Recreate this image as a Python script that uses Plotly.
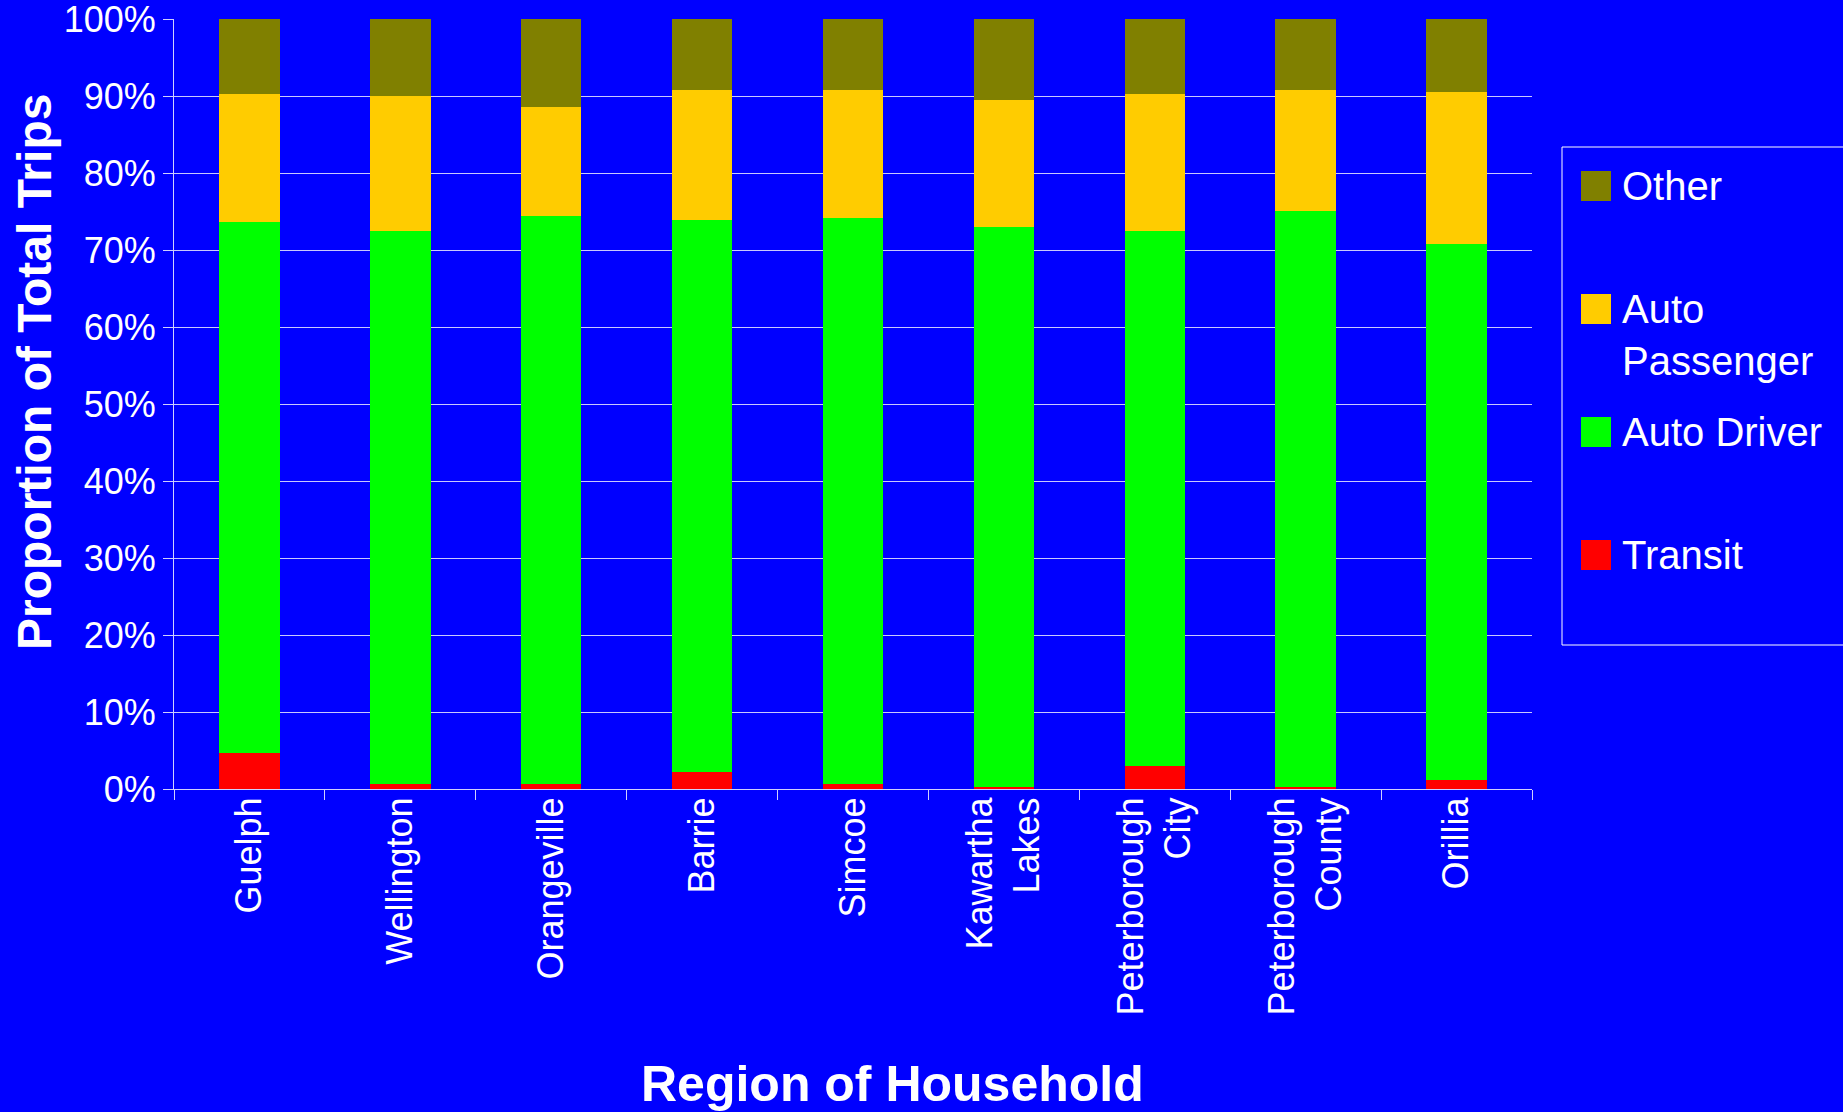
import plotly.graph_objects as go

# ---- data ----
regions = ["Guelph", "Wellington", "Orangeville", "Barrie", "Simcoe",
           "Kawartha<br>Lakes", "Peterborough<br>City", "Peterborough<br>County", "Orillia"]
transit = [4.7, 0.7, 0.7, 2.2, 0.7, 0.3, 3.0, 0.3, 1.2]
auto_driver = [69.0, 71.8, 73.7, 71.7, 73.5, 72.7, 69.5, 74.8, 69.6]
auto_passenger = [16.6, 17.5, 14.2, 16.9, 16.6, 16.5, 17.8, 15.7, 19.7]
other = [9.7, 10.0, 11.4, 9.2, 9.2, 10.5, 9.7, 9.2, 9.5]
y_ticks = [0, 10, 20, 30, 40, 50, 60, 70, 80, 90, 100]
y_tick_labels = [f"{v}%" for v in y_ticks]

series_names = ["Transit", "Auto Driver", "Auto Passenger", "Other"]
legend_labels = {"Transit": "Transit", "Auto Driver": "Auto Driver",
                 "Auto Passenger": "Auto<br>Passenger", "Other": "Other"}
series_values = [transit, auto_driver, auto_passenger, other]
colors = ["#FF0000", "#00FF00", "#FFCC00", "#808000"]

# ---- geometry ----
W, H = 1843, 1112
L, R, T, B = 174, 311, 19, 323
PW, PH = W - L - R, H - T - B
FONT = "Liberation Sans, Arial, sans-serif"
BG = "#0000FF"


def px_x(x):
    return (x - L) / PW


def px_y(y):
    return (H - B - y) / PH


fig = go.Figure()
for name, vals, col in zip(series_names, series_values, colors):
    fig.add_trace(go.Bar(x=regions, y=vals, name=name, marker_color=col,
                         marker_line_width=0, showlegend=False))

fig.update_layout(
    width=W, height=H,
    margin=dict(l=L, r=R, t=T, b=B, autoexpand=False),
    paper_bgcolor=BG, plot_bgcolor=BG,
    barmode="stack", bargap=0.60,
    font=dict(family=FONT, color="white"),
    showlegend=False,
)
fig.update_xaxes(
    type="category", tickson="boundaries", ticks="outside", ticklen=10,
    tickcolor="#d0d0ff", tickwidth=1, showline=True, linecolor="#d0d0ff",
    linewidth=1, showgrid=False, tickangle=-90, ticklabelstandoff=-7,
    tickfont=dict(size=36, color="white", family=FONT),
)
fig.update_yaxes(
    range=[0, 100], tickvals=y_ticks, ticktext=y_tick_labels, ticks="outside",
    ticklen=10, tickcolor="#d0d0ff", showline=True, linecolor="#d0d0ff",
    linewidth=1, showgrid=True, gridcolor="#c8c8ff", gridwidth=1,
    zeroline=False, ticklabelstandoff=0, ticklabeloverflow="allow",
    tickfont=dict(size=36, color="white", family=FONT),
)

# axis titles
fig.add_annotation(text="<b>Region of Household</b>", xref="paper", yref="paper",
                   x=px_x(892), y=px_y(1084), xanchor="center", yanchor="middle",
                   showarrow=False, font=dict(size=50, color="white", family=FONT))
fig.add_annotation(text="<b>Proportion of Total Trips</b>", xref="paper", yref="paper",
                   x=px_x(34), y=px_y(372), xanchor="center", yanchor="middle",
                   textangle=-90, showarrow=False,
                   font=dict(size=48, color="white", family=FONT))

# custom legend (box, swatches, labels) built from the traces
fig.add_shape(type="rect", xref="paper", yref="paper",
              x0=px_x(1562), x1=px_x(1860), y0=px_y(645), y1=px_y(147),
              line=dict(color="white", width=1), fillcolor=BG, layer="below")
legend_top = 186
legend_step = 123
line_h = 52
for i, tr in enumerate(reversed(fig.data)):
    yc = legend_top + i * legend_step
    fig.add_shape(type="rect", xref="paper", yref="paper",
                  x0=px_x(1581), x1=px_x(1611), y0=px_y(yc + 15), y1=px_y(yc - 15),
                  line=dict(width=0), fillcolor=tr.marker.color)
    label = legend_labels[tr.name]
    n_lines = label.count("<br>") + 1
    fig.add_annotation(text=label, xref="paper", yref="paper",
                       x=px_x(1620), y=px_y(yc + (n_lines - 1) * line_h / 2),
                       xanchor="left", yanchor="middle", align="left",
                       showarrow=False, font=dict(size=40, color="white", family=FONT))

fig.write_html("out.html", config={"displayModeBar": False},
               post_script="document.body.style.margin='0';document.body.style.background='#0000FF';")
